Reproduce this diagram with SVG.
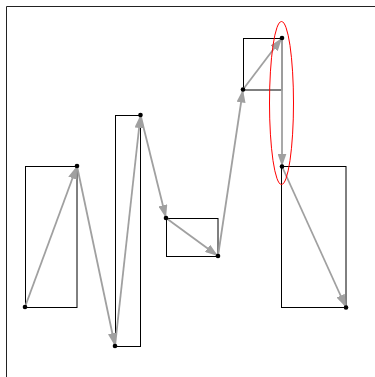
<svg xmlns="http://www.w3.org/2000/svg" width="375" height="377" viewBox="0 0 375 377">
<style>
.box{fill:none;stroke:#000;stroke-width:1}
.ax{fill:none;stroke:#222;stroke-width:1}
.e{fill:none;stroke:#a0a0a0;stroke-width:1.8}
.pt{fill:#000}
</style>
<defs>
<marker id="ah" viewBox="0 0 13 9" refX="13" refY="4.5" markerWidth="13" markerHeight="9" markerUnits="userSpaceOnUse" orient="auto">
<path d="M0,0 L13,4.5 L0,9 Z" fill="#a0a0a0"/>
</marker>
</defs>
<rect width="375" height="377" fill="#fff"/>
<path class="ax" d="M6.5,377 V6.5 H375"/>
<g id="boxes">
<rect id="box1" class="box" x="25.5" y="166.5" width="51.5" height="141"/>
<rect id="box2" class="box" x="115.5" y="115.5" width="25" height="231"/>
<rect id="box3" class="box" x="166.5" y="218.5" width="51.5" height="38"/>
<rect id="box4" class="box" x="243.5" y="38.5" width="38.5" height="51.5"/>
<rect id="box5" class="box" x="281.5" y="166.5" width="64.5" height="141"/>
</g>
<g id="connectors">
<line class="e" x1="25" y1="307" x2="77" y2="166" marker-end="url(#ah)"/>
<line class="e" x1="77" y1="166" x2="115" y2="346" marker-end="url(#ah)"/>
<line class="e" x1="115" y1="346" x2="140.5" y2="115" marker-end="url(#ah)"/>
<line class="e" x1="140.5" y1="115" x2="166" y2="218" marker-end="url(#ah)"/>
<line class="e" x1="166" y1="218" x2="218" y2="256" marker-end="url(#ah)"/>
<line class="e" x1="218" y1="256" x2="243" y2="89.5" marker-end="url(#ah)"/>
<line class="e" x1="243" y1="89.5" x2="282" y2="38" marker-end="url(#ah)"/>
<line class="e" x1="282" y1="38" x2="282" y2="166.5" marker-end="url(#ah)"/>
<line class="e" x1="282" y1="166.5" x2="346" y2="307.5" marker-end="url(#ah)"/>
</g>
<g id="points">
<circle id="p1" class="pt" cx="25" cy="307" r="2.3"/>
<circle id="p2" class="pt" cx="77" cy="166" r="2.3"/>
<circle id="p3" class="pt" cx="115" cy="346" r="2.3"/>
<circle id="p4" class="pt" cx="140.5" cy="115" r="2.3"/>
<circle id="p5" class="pt" cx="166" cy="218" r="2.3"/>
<circle id="p6" class="pt" cx="218" cy="256" r="2.3"/>
<circle id="p7" class="pt" cx="243" cy="89.5" r="2.3"/>
<circle id="p8" class="pt" cx="282" cy="38" r="2.3"/>
<circle id="p9" class="pt" cx="282" cy="166.5" r="2.3"/>
<circle id="p10" class="pt" cx="346" cy="307.5" r="2.3"/>
</g>
<ellipse id="highlight" cx="281.5" cy="103" rx="12" ry="81.5" fill="none" stroke="#f00" stroke-width="1"/>
</svg>
